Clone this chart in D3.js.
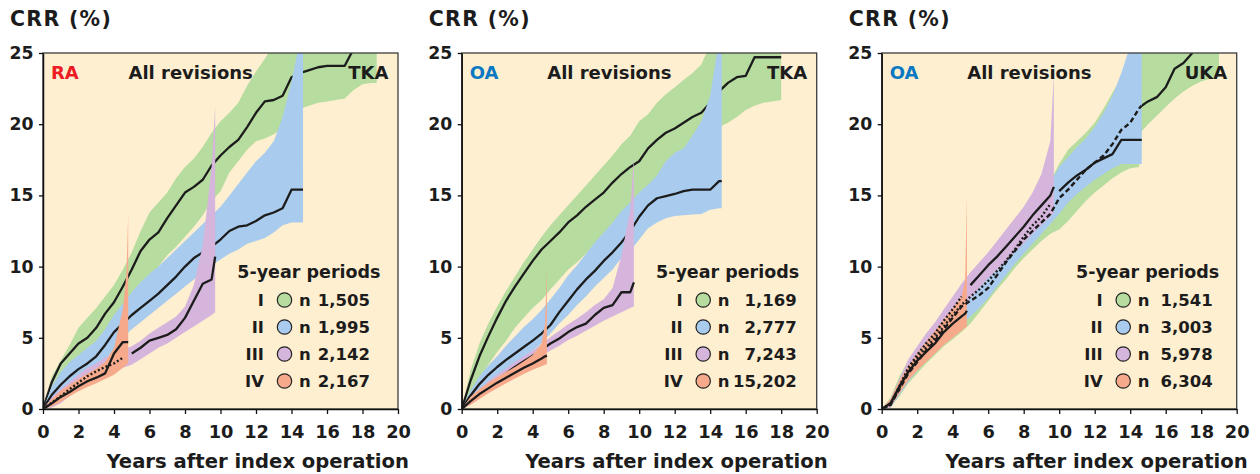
<!DOCTYPE html>
<html><head><meta charset="utf-8">
<script src="https://cdn.jsdelivr.net/npm/d3@7"></script>
<style>
body{margin:0;background:#fff;}
svg{display:block;font-family:"DejaVu Sans",sans-serif;font-weight:bold;}
</style>
</head><body>
<svg id="chart" width="1260" height="474"></svg>
<script>
// ---------- shared categories / ticks ----------
const periods = ["I", "II", "III", "IV"];
const periodColors = ["#b6dc9f", "#a9cbee", "#d6b5dc", "#f6aa8b"];
const xTicks = [0, 2, 4, 6, 8, 10, 12, 14, 16, 18, 20];
const yTicks = [0, 5, 10, 15, 20, 25];

// ---------- Panel 1 : RA, TKA ----------
const p1Counts = ["1,505", "1,995", "2,142", "2,167"];
const p1_I_x  = [0,0.5,1,1.5,2,2.5,3,3.5,4,4.5,5,5.5,6,6.5,7,7.5,8,8.5,9,9.5,10,10.5,11,11.5,12,12.5,13,13.5,14,14.5,15,15.5,16,16.5,17,17.5,18,18.5,18.8];
const p1_I_est = [0,1.9,3.2,3.9,4.6,5.0,5.7,6.7,7.5,8.6,9.8,11.1,11.9,12.4,13.4,14.3,15.2,15.6,16.1,17.1,17.8,18.4,18.9,19.8,20.8,21.6,21.7,22.0,23.3,23.6,23.8,24.0,24.1,24.1,24.1,25.3,null,null,null];
const p1_I_lo = [0,1.0,2.2,2.9,3.5,4.0,4.5,5.1,5.8,6.6,7.4,8.2,9.1,10.0,10.8,11.4,12.1,12.8,13.6,14.6,15.3,16.6,17.4,18.2,18.8,19.0,19.3,19.7,21.0,21.1,21.3,21.5,21.6,21.7,21.8,22.4,22.8,22.9,22.9];
const p1_I_hi = [0,2.3,3.4,4.5,5.7,6.4,7.1,7.9,8.7,9.8,11.0,12.5,13.8,14.5,15.2,16.2,17.0,17.6,18.4,19.4,20.2,20.8,21.5,22.7,23.7,24.6,25.6,25.6,25.6,25.6,25.6,25.6,25.6,25.6,25.6,25.6,25.6,25.6,25.6];
const p1_II_x  = [0,0.5,1,1.5,2,2.5,3,3.5,4,4.5,5,5.5,6,6.5,7,7.5,8,8.5,9,9.5,10,10.5,11,11.5,12,12.5,13,13.5,14,14.5,14.65];
const p1_II_est = [0,1.0,1.7,2.3,2.8,3.2,3.7,4.5,5.4,6.0,6.6,7.1,7.6,8.1,8.7,9.3,10.0,10.6,11.0,11.4,11.9,12.5,12.8,12.9,13.2,13.6,13.8,14.1,15.4,15.4,15.4];
const p1_II_lo = [0,0.5,1.0,1.5,1.9,2.3,2.8,3.4,4.2,5.0,5.6,6.1,6.6,7.1,7.6,8.1,8.6,9.1,9.6,10.1,10.5,10.9,11.2,11.6,11.8,12.0,12.4,12.9,13.1,13.1,13.1];
const p1_II_hi = [0,1.6,2.6,3.3,3.8,4.3,4.8,5.6,6.6,7.4,8.2,8.9,9.5,10.0,10.6,11.2,11.8,12.4,13.0,13.6,14.2,15.0,15.8,16.6,17.4,18.0,18.8,20.5,23.0,26,26];
const p1_III_x  = [0,0.5,1,1.5,2,2.5,3,3.5,4,4.5,5,5.5,6,6.5,7,7.5,8,8.5,9,9.5,9.7];
const p1_III_est = [0,0.45,0.9,1.4,1.85,2.3,2.65,2.95,3.2,3.6,3.9,4.3,4.8,5.0,5.2,5.6,6.4,7.6,8.8,9.1,10.7];
const p1_III_lo = [0,0.1,0.4,0.9,1.3,1.7,2.1,2.4,2.7,2.9,3.1,3.5,3.9,4.3,4.6,5.0,5.4,5.8,6.2,6.6,6.8];
const p1_III_hi = [0,0.8,1.4,1.9,2.4,2.9,3.2,3.6,3.9,4.2,4.4,4.8,5.3,5.7,6.1,6.5,7.2,8.7,11.5,17.0,21.2];
const p1_IV_x  = [0,0.5,1,1.5,2,2.5,3,3.5,4,4.5,4.7,4.8];
const p1_IV_est = [0,0.4,0.85,1.2,1.6,1.95,2.2,2.5,3.9,4.7,4.7,4.7];
const p1_IV_lo = [0,0.2,0.5,0.9,1.25,1.55,1.8,2.1,2.4,2.9,3.1,3.2];
const p1_IV_hi = [0,0.7,1.3,1.7,2.1,2.5,2.85,3.3,4.3,7.0,9.5,13.7];

// ---------- Panel 2 : OA, TKA ----------
const p2Counts = ["1,169", "2,777", "7,243", "15,202"];
const p2_I_x  = [0,0.5,1,1.5,2,2.5,3,3.5,4,4.5,5,5.5,6,6.5,7,7.5,8,8.5,9,9.5,10,10.5,11,11.5,12,12.5,13,13.5,14,14.5,15,15.5,16,16.5,17,17.5,18];
const p2_I_est = [0,2.0,3.7,5.1,6.4,7.6,8.6,9.5,10.4,11.2,11.8,12.4,13.1,13.6,14.2,14.7,15.2,15.9,16.5,17.0,17.4,18.3,18.9,19.4,19.7,20.1,20.5,20.8,21.5,22.3,22.9,23.3,23.4,24.7,24.7,24.7,24.7];
const p2_I_lo = [0,0.8,2.1,3.1,4.0,4.8,5.7,6.4,7.1,7.65,8.4,9.1,9.8,10.3,10.9,11.4,11.9,12.3,12.8,13.3,13.8,14.6,15.4,15.9,16.4,17.0,17.8,18.6,19.6,19.8,20.1,20.5,21.0,21.3,21.5,21.6,21.7];
const p2_I_hi = [0,2.7,4.6,6.0,7.2,8.3,9.3,10.3,11.2,12.1,12.9,13.6,14.3,15.0,15.7,16.4,17.1,17.8,18.6,19.2,20.2,20.7,21.5,22.1,22.6,23.1,23.6,24.2,25.6,25.6,25.6,25.6,25.6,25.6,25.6,25.6,25.6];
const p2_II_x  = [0,0.5,1,1.5,2,2.5,3,3.5,4,4.5,5,5.5,6,6.5,7,7.5,8,8.5,9,9.5,10,10.5,11,11.5,12,12.5,13,13.5,14,14.5,14.65];
const p2_II_est = [0,0.95,1.75,2.4,2.95,3.45,3.9,4.35,4.8,5.3,5.9,6.8,7.6,8.4,9.1,9.7,10.4,11.0,11.7,12.5,13.5,14.3,14.8,14.95,15.1,15.3,15.4,15.4,15.4,16.0,16.0];
const p2_II_lo = [0,0.6,1.1,1.6,2.1,2.6,3.1,3.65,4.1,4.6,5.3,6.0,6.6,7.3,7.9,8.6,9.2,9.8,10.6,11.1,11.9,12.7,13.1,13.4,13.55,13.6,13.65,13.7,14.0,14.1,14.1];
const p2_II_hi = [0,1.3,2.3,3.05,3.7,4.45,5.1,5.75,6.3,6.95,7.7,8.5,9.4,10.1,10.9,11.7,12.4,13.1,13.9,14.5,15.2,15.75,16.4,17.4,18.0,18.3,19.2,20.2,22.0,26,26];
const p2_III_x  = [0,0.5,1,1.5,2,2.5,3,3.5,4,4.5,5,5.5,6,6.5,7,7.5,8,8.5,9,9.5,9.7];
const p2_III_est = [0,0.55,1.05,1.6,2.05,2.5,2.95,3.35,3.75,4.15,4.6,4.95,5.4,5.75,6.0,6.6,7.1,7.3,8.2,8.2,8.9];
const p2_III_lo = [0,0.3,0.75,1.25,1.7,2.15,2.6,3.0,3.4,3.75,4.1,4.45,4.85,5.15,5.5,5.85,6.2,6.5,6.8,7.1,7.2];
const p2_III_hi = [0,0.85,1.4,1.95,2.4,2.85,3.3,3.7,4.1,4.55,5.05,5.5,5.95,6.35,6.8,7.3,7.7,8.5,10.8,14.0,17.7];
const p2_IV_x  = [0,0.5,1,1.5,2,2.5,3,3.5,4,4.5,4.7,4.8];
const p2_IV_est = [0,0.55,1.05,1.45,1.85,2.2,2.55,2.9,3.2,3.55,3.7,3.75];
const p2_IV_lo = [0,0.3,0.7,1.1,1.45,1.8,2.15,2.45,2.75,3.0,3.1,3.15];
const p2_IV_hi = [0,0.85,1.4,1.85,2.25,2.6,2.95,3.35,3.8,4.6,6.0,10.0];

// ---------- Panel 3 : OA, UKA ----------
const p3Counts = ["1,541", "3,003", "5,978", "6,304"];
const p3_I_x  = [0,0.5,1,1.5,2,2.5,3,3.5,4,4.5,5,5.5,6,6.5,7,7.5,8,8.5,9,9.5,10,10.5,11,11.5,12,12.5,13,13.5,14,14.5,14.65,15,15.5,16,16.5,17,17.5,18,18.5,19];
const p3_I_est = [0,0.3,1.4,2.5,3.3,4.1,4.8,5.6,6.4,7.2,7.6,8.0,8.5,9.4,10.3,11.1,11.9,12.5,13.1,13.7,14.8,15.4,16.1,16.8,17.3,17.8,18.6,19.6,20.1,21.1,21.3,21.6,21.9,22.6,23.9,24.3,25.0,null,null,null];
const p3_I_lo = [0,0.1,0.9,1.8,2.5,3.2,3.8,4.4,4.9,5.4,6.0,6.8,7.6,8.4,9.1,9.9,10.6,11.2,11.8,12.3,12.6,13.2,13.9,14.6,15.2,15.7,16.2,16.6,16.9,17.0,19.5,20.0,20.6,21.2,21.8,22.3,22.7,23.0,23.2,23.4];
const p3_I_hi = [0,0.8,2.3,3.4,4.3,5.1,5.8,6.5,7.2,7.9,8.6,9.4,10.2,11.0,11.8,12.6,13.4,14.2,15.0,16.0,17.2,18.2,18.8,19.4,20.1,21.1,22.2,23.3,24.9,25.6,25.6,25.6,25.6,25.6,25.6,25.6,25.6,25.6,25.6,25.6];
const p3_II_x  = [0,0.5,1,1.5,2,2.5,3,3.5,4,4.5,5,5.5,6,6.5,7,7.5,8,8.5,9,9.5,10,10.5,11,11.5,12,12.5,13,13.5,14,14.5,14.65];
const p3_II_est = [0,0.3,1.5,2.7,3.6,4.3,5.0,5.8,6.6,7.3,7.9,8.4,9.0,9.7,10.4,11.2,12.1,12.9,13.5,14.4,15.3,15.9,16.4,16.8,17.3,17.6,17.9,18.9,18.9,18.9,18.9];
const p3_II_lo = [0,0.1,1.0,1.9,2.7,3.4,4.1,4.7,5.3,5.9,6.5,7.1,7.8,8.6,9.4,10.2,10.9,11.6,12.3,13.0,13.7,14.5,15.1,15.6,16.1,16.5,16.9,17.2,17.2,17.2,17.2];
const p3_II_hi = [0,0.6,1.9,3.0,3.9,4.7,5.4,6.2,7.0,7.8,8.6,9.3,10.0,10.8,11.5,12.3,13.1,13.9,14.8,15.9,17.0,17.7,18.4,19.0,19.8,20.8,22.0,23.6,25.5,26,26];
const p3_III_x  = [0,0.5,1,1.5,2,2.5,3,3.5,4,4.5,5,5.5,6,6.5,7,7.5,8,8.5,9,9.5,9.7];
const p3_III_est = [0,0.4,1.6,2.9,3.8,4.6,5.3,6.2,7.0,7.9,8.7,9.4,10.1,10.7,11.4,12.1,12.8,13.6,14.3,15.0,15.6];
const p3_III_lo = [0,0.1,1.1,2.3,3.2,3.9,4.6,5.4,6.2,7.0,7.8,8.5,9.2,9.8,10.4,11.0,11.6,12.3,12.9,13.5,13.8];
const p3_III_hi = [0,0.7,2.1,3.5,4.4,5.3,6.1,7.0,7.9,8.8,9.6,10.3,11.0,11.8,12.6,13.4,14.2,15.2,16.5,18.8,23.5];
const p3_IV_x  = [0,0.5,1,1.5,2,2.5,3,3.5,4,4.5,4.7,4.8];
const p3_IV_est = [0,0.4,1.6,2.6,3.4,4.0,4.6,5.4,6.0,6.5,6.7,6.9];
const p3_IV_lo = [0,0.2,1.1,2.0,2.7,3.3,3.9,4.5,5.0,5.5,5.7,5.8];
const p3_IV_hi = [0,0.7,2.0,3.0,3.9,4.7,5.5,6.3,7.1,7.9,9.0,15.0];

// ---------- assemble ----------
function series(x, est, lo, hi) {
  return x.map((v, i) => ({x: v, est: est[i], lo: lo[i], hi: hi[i]}));
}
const DOT = "2,2.2", DASH = "5,3";
const panels = [
  {left: 43, tag: "RA", tagColor: "#ed1c24", joint: "TKA", counts: p1Counts, numRight: 327,
   data: [series(p1_I_x,p1_I_est,p1_I_lo,p1_I_hi), series(p1_II_x,p1_II_est,p1_II_lo,p1_II_hi),
          series(p1_III_x,p1_III_est,p1_III_lo,p1_III_hi), series(p1_IV_x,p1_IV_est,p1_IV_lo,p1_IV_hi)],
   styles: [null, null, {dash: DOT, to: 4.8}, null]},
  {left: 461.7, tag: "OA", tagColor: "#0a78c2", joint: "TKA", counts: p2Counts, numRight: 335,
   data: [series(p2_I_x,p2_I_est,p2_I_lo,p2_I_hi), series(p2_II_x,p2_II_est,p2_II_lo,p2_II_hi),
          series(p2_III_x,p2_III_est,p2_III_lo,p2_III_hi), series(p2_IV_x,p2_IV_est,p2_IV_lo,p2_IV_hi)],
   styles: [null, null, null, null]},
  {left: 881.7, tag: "OA", tagColor: "#0a78c2", joint: "UKA", counts: p3Counts, numRight: 331,
   data: [series(p3_I_x,p3_I_est,p3_I_lo,p3_I_hi), series(p3_II_x,p3_II_est,p3_II_lo,p3_II_hi),
          series(p3_III_x,p3_III_est,p3_III_lo,p3_III_hi), series(p3_IV_x,p3_IV_est,p3_IV_lo,p3_IV_hi)],
   styles: [{dash: DASH, to: 14.65}, {dash: DOT, to: 9.7}, {dash: DOT, to: 4.8}, null]}
];

const plotTop = 53, plotW = 355, plotH = 356;
const x = d3.scaleLinear().domain([0, 20]).range([0, plotW]);
const y = d3.scaleLinear().domain([0, 25]).range([plotH, 0]);
const svg = d3.select("#chart");
const FONT = "'DejaVu Sans', sans-serif";
const INK = "#1c1c1c";

const area = d3.area().x(d => x(d.x)).y0(d => y(d.lo)).y1(d => y(d.hi));
const line = d3.line().defined(d => d.est != null).x(d => x(d.x)).y(d => y(d.est));

panels.forEach((p, pi) => {
  const g = svg.append("g").attr("transform", `translate(${p.left},${plotTop})`);
  const clipId = "clip" + pi;
  g.append("clipPath").attr("id", clipId).append("rect")
    .attr("x", 0).attr("y", 0).attr("width", plotW).attr("height", plotH);

  g.append("rect").attr("width", plotW).attr("height", plotH).attr("fill", "#feefd0");

  const plot = g.append("g").attr("clip-path", `url(#${clipId})`);
  p.data.forEach((s, i) => {
    plot.append("path").datum(s).attr("d", area).attr("fill", periodColors[i]);
    const st = p.styles[i];
    const solidPart = st ? s.filter(d => d.x >= st.to) : s;
    if (solidPart.length > 1) {
      plot.append("path").datum(solidPart).attr("d", line)
        .attr("fill", "none").attr("stroke", INK).attr("stroke-width", 2.3)
        .attr("stroke-linejoin", "round");
    }
  });
  p.data.forEach((s, i) => {
    const st = p.styles[i];
    if (!st) return;
    const part = s.filter(d => d.x <= st.to);
    plot.append("path").datum(part).attr("d", line)
      .attr("fill", "none").attr("stroke", INK).attr("stroke-width", 2.4)
      .attr("stroke-dasharray", st.dash);
  });

  // frame
  g.append("rect").attr("width", plotW).attr("height", plotH)
    .attr("fill", "none").attr("stroke", "#3c3c3c").attr("stroke-width", 1.3);

  // axes
  const ax = g.append("g").attr("transform", `translate(0,${plotH})`)
    .call(d3.axisBottom(x).tickValues(xTicks).tickSize(5).tickSizeOuter(0).tickPadding(11.5));
  const ay = g.append("g")
    .call(d3.axisLeft(y).tickValues(yTicks).tickSize(4).tickSizeOuter(0).tickPadding(5.5));
  [ax, ay].forEach(a => {
    a.select(".domain").attr("stroke", "#111").attr("stroke-width", 1.5);
    a.selectAll(".tick line").attr("stroke", "#111").attr("stroke-width", 1.3);
    a.selectAll(".tick text").attr("fill", INK)
      .attr("font-family", FONT).attr("font-weight", "bold");
  });
  ax.selectAll(".tick text").attr("font-size", 17.8);
  ay.selectAll(".tick text").attr("font-size", 17.3);

  // titles
  g.append("text").attr("x", -33).attr("y", 26 - plotTop).text("CRR (%)")
    .attr("font-size", 20.5).attr("letter-spacing", 1.3).attr("fill", INK);
  g.append("text").attr("x", plotW + 11).attr("y", 468 - plotTop).attr("text-anchor", "end")
    .text("Years after index operation").attr("font-size", 19.6).attr("fill", INK);

  // in-plot labels
  g.append("text").attr("x", 8).attr("y", 26).text(p.tag)
    .attr("font-size", 18).attr("fill", p.tagColor);
  g.append("text").attr("x", 85.5).attr("y", 26).text("All revisions")
    .attr("font-size", 18).attr("fill", INK);
  g.append("text").attr("x", 345.5).attr("y", 26).attr("text-anchor", "end").text(p.joint)
    .attr("font-size", 18).attr("fill", INK);

  // legend
  const lg = g.append("g");
  lg.append("text").attr("x", 337.5).attr("y", 225.3).attr("text-anchor", "end")
    .text("5-year periods").attr("font-size", 17.5).attr("fill", INK);
  periods.forEach((per, i) => {
    const by = 253 + i * 27;
    lg.append("text").attr("x", 221).attr("y", by).attr("text-anchor", "end")
      .text(per).attr("font-size", 16.5).attr("fill", INK);
    lg.append("circle").attr("cx", 241.5).attr("cy", by - 6).attr("r", 7.2)
      .attr("fill", periodColors[i]).attr("stroke", "#222").attr("stroke-width", 1.2);
    lg.append("text").attr("x", 256).attr("y", by).text("n")
      .attr("font-size", 16.5).attr("fill", INK);
    lg.append("text").attr("x", p.numRight).attr("y", by).attr("text-anchor", "end")
      .text(p.counts[i]).attr("font-size", 16.5).attr("fill", INK);
  });
});
</script>
</body></html>
